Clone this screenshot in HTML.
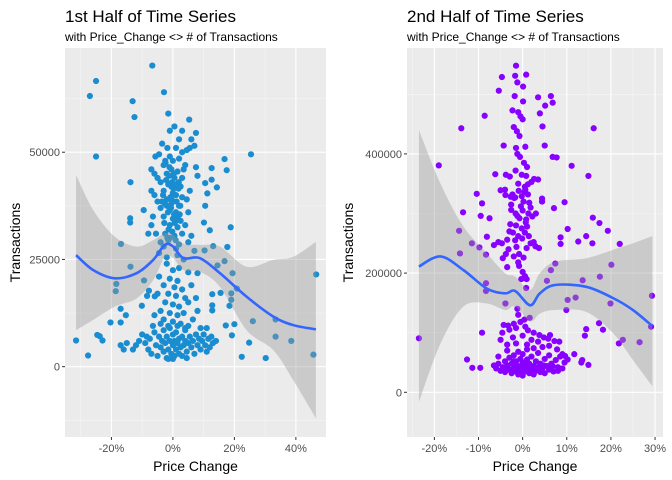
<!DOCTYPE html>
<html><head><meta charset="utf-8"><style>
body{margin:0;background:#fff;}
svg{display:block;font-family:"Liberation Sans",Arial,sans-serif;}
</style></head><body>
<svg id="chart" width="672" height="480"></svg>
<script>
// ---- Left panel data (price change %, transactions) ----
const leftX = [-6.7,-25,-27,-13.1,-2.9,-12.5,-25,5.3,25.4,-13.8,-13.9,-13.9,-16.9,-31.5,-27.6,-24.6,-23.8,-22.9,-20.3,-17,-17,-15.3,-18.6,-18.4,-13.8,-10.1,-9.4,-8.4,-7.8,-5.9,22.4,30.2,24.8,26,33.4,33.4,38.5,45.7,46.6,20.8,19.4,18.8,17.7,16.8,16.8,17.5,20,19.2,17.2,18.4,19,19,15.5,12.8,12.8,12.8,13.1,12,10.1,10.5,14.3,11.2,10.5,12.6,12.6,10.3,14.5,8,
-1.5,0.5,-1,3,7.5,6,-1.8,3,4.5,5.5,7,-5.7,-4.5,-1,2,0,-3,-7,-0.5,1.5,3.5,7.5,8,-6,-2,0.5,-4,-1.5,2.5,5.5,-7,-3,0,1,-2,3,4.5,-5,-0.5,2,-4,-1,1,5,-9.5,-6.5,-3,0,2.5,-7,-1,1.5,4,-5.5,-2.5,0.5,3,6,-4,-1.5,2,5,-8,-3,1,-4.5,-2,1.5,3.5,7,-6,-5,-2.5,1,-3.5,2,4,-0.5,-1,3,
-2.2,-1.2,-0.3,0.8,1.8,-3.2,-2.6,-0.8,0.2,1.2,2.4,-1.6,-0.6,0.4,-2.8,-1.4,0.6,1.6,-3.6,-2,-0.4,1,2.2,-1.8,-0.2,0.9,-2.4,-1.1,0.3,1.9,
-2,0,2,5,-4.5,-1,1.5,-3,0.5,3,6,-1.5,1,4,-2.5,0,2,5,-4,-1,1.5,3.5,-3,0,2.5,6.5,-1.5,4,-6,8,-5,7.5,
-10,-9,-8,-7.5,-7,-6,-5.5,-5,-4.5,-4,-3.5,-3,-3,-2.5,-2,-2,-1.5,-1,-1,-0.5,0,0,0.5,0.5,1,1,1.5,2,2,2.5,3,3,3.5,4,4,4.5,5,5.5,6,6.5,7,7.5,8,8.5,9,9.5,10,10.5,11,11.5,12,12.5,13,14,-11,-12,-13,-15,-16,-17,-6.5,-4,5,9,11,-8.5,1.5,-1.5,0,4.5];
const leftY = [70200,66600,63100,61900,64000,58200,49000,57600,49500,43000,34600,33600,28600,6100,2600,7400,7100,6100,10300,10300,13500,12000,17600,19300,23300,14200,20100,16500,17700,16400,2300,2000,5600,10600,11000,7000,6000,2800,21500,18200,21800,32500,27900,24600,48400,45800,9900,7300,9600,14200,15600,17100,17200,16900,14300,13100,28100,31800,33600,37500,41800,40400,42800,43600,46300,27100,23600,21800,
59000,56000,55000,55000,54500,53000,51000,50000,50500,51000,51500,49000,49500,49000,48500,48000,47000,46000,46000,45500,46000,46500,44500,45000,45000,44000,43000,42500,42000,41000,41000,41000,40500,40000,39000,39500,39000,38500,38000,37500,37000,36500,36000,36000,36500,35000,35000,34500,34000,33000,33000,32500,33000,31000,31000,30500,31000,30500,29000,29500,28500,29000,31000,28000,27500,26500,25500,26000,25000,27000,40000,44000,48000,51000,52000,53000,47000,42000,30000,44000,
43500,44500,43000,42500,41500,40000,38000,39500,41500,38500,37500,36000,37000,35500,33500,32000,33500,35000,38500,37500,39000,34000,35500,30000,31500,29500,47500,46500,45000,43000,
24000,22500,23000,22000,21000,20500,20000,19000,18500,18000,19000,17000,16500,16000,15000,14500,14000,15000,13000,12500,12000,12500,11000,10500,10000,11000,9500,9000,12000,13000,17000,16000,
7500,5500,4000,6500,3000,8000,5000,2500,7000,4500,6000,3500,8500,5500,2000,7000,4000,6000,9000,3000,5000,7500,2500,6000,4000,8000,5500,3000,6500,4500,7000,2500,5000,6000,8500,3500,5500,7000,4500,6000,3000,7500,5000,6500,4000,6000,7500,5000,3500,6500,4500,7000,5500,6000,6000,5000,4000,5500,4000,5000,9500,10000,9500,9000,9000,7000,9500,1800,1800,2000];
const leftFitX = [-31.5,-25.9,-18.9,-11.8,-6.4,-2.6,0.1,3.4,8.8,15.3,24,32.6,39.1,46.5];
const leftFitY = [26000,22500,20600,21800,24900,28400,28000,25300,25300,21800,16300,11700,9700,8700];
const leftFitHi = [44700,36500,30300,28000,29500,31100,30700,28700,28400,28000,23300,24900,25600,29100];
const leftFitLo = [8500,10900,14000,15900,20200,25600,25300,22500,22100,18600,8500,3900,-3100,-12000];
const leftXTicks = [-20,0,20,40];
const leftXLabels = ["-20%","0%","20%","40%"];
const leftYTicks = [0,25000,50000];
const leftYLabels = ["0","25000","50000"];

// ---- Right panel data (price change %, transactions in thousands) ----
const rightX = [-23.5,-19,-13.9,-8.6,-5.4,-4.7,-1.5,-1.7,0.8,-1.2,0.1,16.1,11.1,14.9,6.8,7.7,5,6.4,6.8,5.1,3.5,3.9,4.5,-4.3,-6.2,-10.4,-9.2,-9.5,-13.5,-7.5,-14.4,-14.2,-11.5,-9.8,-8.3,-8.1,15.9,17.4,19.3,15.8,14.4,12.6,8.6,8.6,10.2,22,20.1,17.5,19.9,29.3,13.6,12,10.2,9.9,7.4,6.4,5.5,29.1,26.5,22.7,21.8,17.3,18.2,14.4,14.1,14.9,13.5,13.3,11.7,9.6,-9.2,-12.6,-11.4,-9.6,-8.3,-8.3,-3.9,-5,-3.9,-2.7,-1.7,-0.2,0.6,1.2,2,3.5,4.4,4.4,7.1,9.5,
-1.8,0.1,-2.3,-1,-0.5,0,-2,-1.3,-0.7,-1.5,0.6,-1.2,-0.6,0.3,1,-1.6,-0.2,0.8,2.6,-3.8,-2.9,-1,0.5,-4,-2.3,0.2,1.5,-2.6,-1.6,0,1.3,3,-0.7,0.8,2.2,-2.8,-1.5,-0.2,1,-2.2,-1,0.5,-3.5,-1.7,1.8,2.5,-4.7,-3.2,-0.8,0.9,2.9,-4.5,-3.5,-3.8,-1,0,0.5,0.9,0.8,-0.3,-6.5,-5.5,3.7,
-0.9,0.4,-1.9,1.2,-2.6,-0.4,1.8,-1.2,0.7,-3,-0.1,1.4,-1.4,-2,0.2,-0.8,
-1.2,-1,1.6,0.4,-0.5,-2,-3.3,-4.3,-4.6,-3,-1.5,0.6,1.2,2.5,3.8,4.8,5.8,6.2,7.2,-5,-2.2,0,2,3.5,-3.5,-1.5,1,4.5,6,8.3,7.8,
-6.5,-6,-5.5,-5,-4.5,-4,-4,-3.5,-3,-3,-2.5,-2.5,-2,-2,-1.5,-1.5,-1,-1,-1,-0.5,-0.5,0,0,0,0,0.5,0.5,1,1,1,1.5,1.5,2,2,2.5,2.5,3,3,3.5,3.5,4,4,4.5,5,5,5.5,6,6,6.5,7,7.5,8,8.5,9,9.5,-5.5,-3.5,2.5,-2,0.3,-0.8,1.8,-1.8,3.2,-4.2,4.8,6.8,8,9,10.2];
const rightY = [90.6,380.7,443,464,506,529,548,531,533,520,513,443,380,363,395,394,414,497,486,481,495,468,446,414,366,333,317,296,302,292,271,233,250,243,231,261,293,284,271,250,262,253,260,249,274,249,214,194,149,162,188,159,155,138,216,205,187,110,84,88,82,116,105,106,95,46,54,50,64,61,100,55,41,41,183,170,149,339,331,328,327,329,340,349,353,357,325,320,309,319,
497,488,473,470,463,458,445,438,430,410,412,400,395,385,378,372,365,363,358,365,362,350,345,340,332,320,318,306,300,305,300,300,292,290,295,282,280,275,278,268,262,268,256,255,250,252,250,240,232,242,245,225,210,232,218,202,195,190,175,190,247,252,242,
338,336,326,332,315,312,310,296,285,270,258,262,244,228,226,212,
140,130,125,122,118,115,112,113,100,105,108,110,104,100,96,92,90,96,86,88,92,95,88,85,80,82,80,76,78,85,72,
45,40,48,36,42,52,34,45,38,58,32,48,40,62,35,52,44,30,68,38,56,28,42,50,64,35,46,40,55,72,32,48,38,60,44,30,52,36,42,66,34,48,40,56,32,44,38,62,48,35,54,42,60,40,50,60,70,74,52,36,33,42,44,40,38,45,44,36,64,55];
const rightFitX = [-23.5,-18.6,-13.4,-8.1,-4,-1.7,1.7,3.9,7.3,14.4,20.5,25,29.4];
const rightFitY = [211,228,205,174,166,170,146,166,180,177,158,138,111];
const rightFitHi = [440,350,278,233,200,194,172,200,219,225,239,250,262];
const rightFitLo = [-16,82,144,149,138,144,119,132,138,135,99,54,10];
const rightXTicks = [-20,-10,0,10,20,30];
const rightXLabels = ["-20%","-10%","0%","10%","20%","30%"];
const rightYTicks = [0,200,400];
const rightYLabels = ["0","200000","400000"];

const NS = "http://www.w3.org/2000/svg";
const svg = document.getElementById("chart");
function mk(tag, attrs, parent){
  const e = document.createElementNS(NS, tag);
  for (const k in attrs) e.setAttribute(k, attrs[k]);
  (parent||svg).appendChild(e);
  return e;
}
function smoothPath(xs, ys, sx, sy){
  const p = xs.map((x,i)=>[sx(x), sy(ys[i])]);
  let d = "M"+p[0][0]+","+p[0][1];
  for (let i=0;i<p.length-1;i++){
    const p0=p[Math.max(0,i-1)], p1=p[i], p2=p[i+1], p3=p[Math.min(p.length-1,i+2)];
    const c1x=p1[0]+(p2[0]-p0[0])/6, c1y=p1[1]+(p2[1]-p0[1])/6;
    const c2x=p2[0]-(p3[0]-p1[0])/6, c2y=p2[1]-(p3[1]-p1[1])/6;
    d += " C"+c1x+","+c1y+" "+c2x+","+c2y+" "+p2[0]+","+p2[1];
  }
  return d;
}
function panel(cfg){
  const {x0,x1,y0,y1,xmin,xmax,ymin,ymax} = cfg;
  const sx = v => x0 + (v-xmin)/(xmax-xmin)*(x1-x0);
  const sy = v => y1 - (v-ymin)/(ymax-ymin)*(y1-y0);
  const g = mk("g",{});
  
  
  const bg = mk("rect",{x:x0,y:y0,width:x1-x0,height:y1-y0,fill:"#ebebeb"},g);
  
  
  cfg.xMinor.forEach(v=>{ if(v>xmin&&v<xmax){ const l=mk("line",{x1:sx(v),x2:sx(v),y1:y0,y2:y1,stroke:"#f5f5f5","stroke-width":0.6},g);
    
     }});
  cfg.yMinor.forEach(v=>{ if(v>ymin&&v<ymax){ const l=mk("line",{x1:x0,x2:x1,y1:sy(v),y2:sy(v),stroke:"#f5f5f5","stroke-width":0.6},g);
    
     }});
  cfg.xTicks.forEach((v,i)=>{
    const l=mk("line",{x1:sx(v),x2:sx(v),y1:y0,y2:y1,stroke:"#fff","stroke-width":1.1},g);
    
    
    const t=mk("line",{x1:sx(v),x2:sx(v),y1:y1,y2:y1+3,stroke:"#333","stroke-width":1},g);
    
    
    const tx=mk("text",{x:sx(v),y:y1+15,"text-anchor":"middle","font-size":11,fill:"#4d4d4d"},g);
    tx.textContent=cfg.xLabels[i];
    
    
  });
  cfg.yTicks.forEach((v,i)=>{
    const l=mk("line",{x1:x0,x2:x1,y1:sy(v),y2:sy(v),stroke:"#fff","stroke-width":1.1},g);
    
    
    const t=mk("line",{x1:x0-3,x2:x0,y1:sy(v),y2:sy(v),stroke:"#333","stroke-width":1},g);
    
    
    const tx=mk("text",{x:x0-5,y:sy(v)+4,"text-anchor":"end","font-size":11,fill:"#4d4d4d"},g);
    tx.textContent=cfg.yLabels[i];
    
    
  });
  cfg.px.forEach((v,i)=>{
    const c=mk("circle",{cx:sx(v),cy:sy(cfg.py[i]),r:3.1,fill:cfg.color},g);
    
    
  });
  const up = smoothPath(cfg.fx, cfg.fhi, sx, sy);
  const loPts = cfg.fx.slice().reverse();
  const lo = smoothPath(loPts, cfg.flo.slice().reverse(), sx, sy).replace(/^M/,"L");
  const rb = mk("path",{d:up+" "+lo+" Z",fill:"#999999","fill-opacity":0.4},g);
  
  
  const ln = mk("path",{d:smoothPath(cfg.fx, cfg.fy, sx, sy),fill:"none",stroke:"#3366ff","stroke-width":2.6},g);
  
  
  const ti=mk("text",{x:x0,y:22,"font-size":17,fill:"#000"},g);
  ti.textContent=cfg.title;
  
  
  const st=mk("text",{x:x0,y:41,"font-size":12,fill:"#000"},g);
  st.textContent="with Price_Change <> # of Transactions";
  
  
  const xt=mk("text",{x:(x0+x1)/2,y:471,"text-anchor":"middle","font-size":14,fill:"#000"},g);
  xt.textContent="Price Change";
  
  
  const yc=(y0+y1)/2;
  const yt=mk("text",{x:cfg.yTitleX,y:yc,"text-anchor":"middle","font-size":14,fill:"#000",transform:"rotate(-90 "+cfg.yTitleX+" "+yc+")"},g);
  yt.textContent="Transactions";
  
  
}
panel({name:"left-panel",x0:65,x1:326,y0:48,y1:437,xmin:-35.1,xmax:49.8,ymin:-16400,ymax:74300,
  xTicks:leftXTicks,xLabels:leftXLabels,yTicks:leftYTicks,yLabels:leftYLabels,
  xMinor:[-30,-10,10,30],yMinor:[-12500,12500,37500,62500],
  px:leftX,py:leftY,color:"#1a8cd0",fx:leftFitX,fy:leftFitY,fhi:leftFitHi,flo:leftFitLo,
  title:"1st Half of Time Series",yTitleX:20});
panel({name:"right-panel",x0:407,x1:663,y0:48,y1:437,xmin:-26.2,xmax:31.8,ymin:-75,ymax:577.7,
  xTicks:rightXTicks,xLabels:rightXLabels,yTicks:rightYTicks,yLabels:rightYLabels,
  xMinor:[-25,-15,-5,5,15,25],yMinor:[-100,100,300,500],
  px:rightX,py:rightY,color:"#8800ff",fx:rightFitX,fy:rightFitY,fhi:rightFitHi,flo:rightFitLo,
  title:"2nd Half of Time Series",yTitleX:353});
</script>
</body></html>
